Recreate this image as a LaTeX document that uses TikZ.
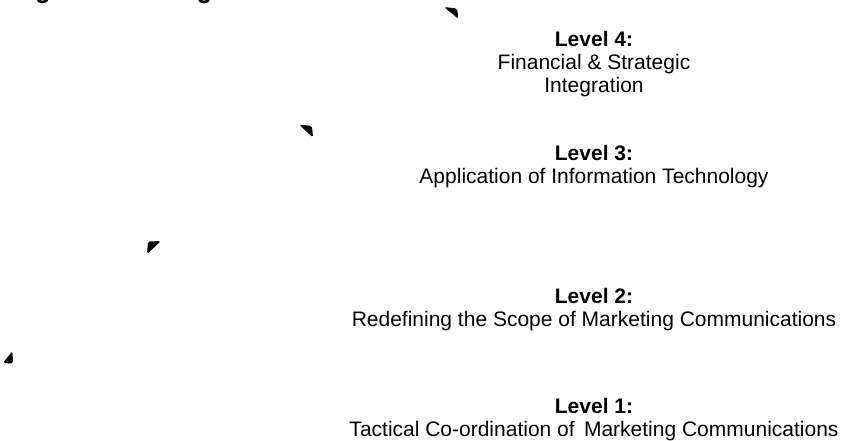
\documentclass[tikz,border=0pt]{standalone}
\usepackage{fontspec}
\setmainfont{Liberation Sans}
\usetikzlibrary{positioning}
\tikzset{
  lvl/.style    = {align=center, inner sep=0pt,
                   font=\fontsize{21}{23}\selectfont},
  corner/.style = {fill=black, rounded corners=1.8pt},
  descender/.style = {draw=black, line width=2.6pt},
}

\begin{document}
\begin{tikzpicture}[x=1pt, y=-1pt]
    \useasboundingbox[fill=white] (0,0) rectangle (845,441);

    % cut-off title
    \draw [descender] (47.5,-1.5) arc[start angle=0, end angle=180, x radius=5, y radius=3.6];
    \draw [descender] (209,-1.5) arc[start angle=0, end angle=180, x radius=5, y radius=3.6];

    % corner marks of the steps
    \fill [corner] (444,7) -- (457,8.5) -- (458.5,19) -- cycle;
    \fill [corner] (299,124.5) -- (312,126) -- (313,137.5) -- cycle;
    \fill [corner] (148,241.5) -- (161,241) -- (147,254) -- cycle;
    \fill [corner] (3,363) -- (13,363.5) -- (12.5,351) -- cycle;

    % levels
    \node [lvl] (level4) at (594,64)  {\textbf{Level 4:}\\Financial \& Strategic\\Integration};
    \node [lvl] (level3) at (594,167) {\textbf{Level 3:}\\Application of Information Technology};
    \node [lvl] (level2) at (594,310) {\textbf{Level 2:}\\Redefining the Scope of Marketing Communications};
    \node [lvl] (level1) at (594,419.5) {\textbf{Level 1:}\\Tactical Co-ordination of~\,Marketing Communications};
\end{tikzpicture}
\end{document}
